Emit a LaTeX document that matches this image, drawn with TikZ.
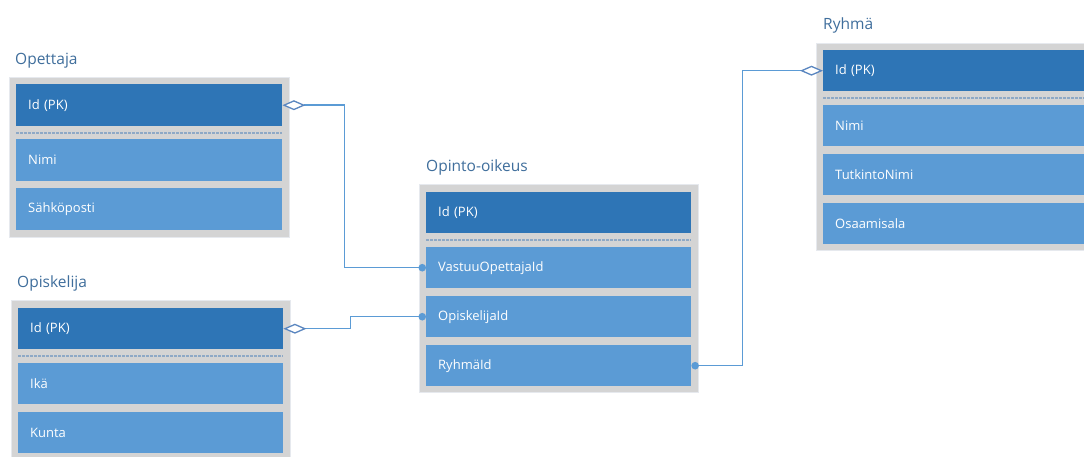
\documentclass[tikz,border=0pt]{standalone}
\usepackage{fontspec}
\setmainfont{Open Sans}
\usetikzlibrary{arrows.meta}
\definecolor{pkblue}{HTML}{2E75B6}
\definecolor{rowblue}{HTML}{5B9BD5}
\definecolor{framegray}{HTML}{D4D4D4}
\definecolor{shadowgray}{HTML}{E6E9EE}
\definecolor{titleblue}{HTML}{3F6E9C}
\definecolor{linkblue}{HTML}{5B9BD5}
\definecolor{tipblue}{HTML}{5A86C0}
\definecolor{sepblue}{HTML}{8EA9C6}
\tikzset{
  tablebox/.style={fill=framegray, draw=shadowgray, line width=1pt},
  field/.style={fill=rowblue, text=white, anchor=north west, inner xsep=12pt,
    inner ysep=0pt, align=left, font=\fontsize{13}{15}\selectfont, draw=none},
  pkfield/.style={field, fill=pkblue},
  tabletitle/.style={anchor=base west, text=titleblue, inner sep=0pt,
    font=\fontsize{15.5}{18}\selectfont},
  sep/.style={draw=sepblue, dash pattern=on 2.5pt off 1.5pt, line width=1.3pt},
  link/.style={draw=linkblue, line width=1.5pt},
  onetip/.tip={Circle[length=7.5pt, fill=rowblue, color=rowblue]},
  manytip/.tip={Diamond[open, length=23pt, width=10pt, line width=1.3pt, color=tipblue, fill=white]}
}
% a field row: name, x, y (top), width, height, text, style
\newcommand{\fieldrow}[7]{%
  \node[#7, text width=#4pt-24pt, minimum height=#5pt] (#1) at (#2,#3) {#6};}
\begin{document}
\begin{tikzpicture}[x=1pt, y=-1pt]
\useasboundingbox (0,0) rectangle (1084,456);
\clip (0,0) rectangle (1084,456);
\fill[white] (0,0) rectangle (1084,456);

% ---------- Opettaja ----------
\node[tabletitle] (tOpe) at (15,64) {Opettaja};
\filldraw[tablebox] (9,77) rectangle (289,237);
\fieldrow{opeId}{16}{84}{266}{42}{Id (PK)}{pkfield}
\draw[sep] (16,133) -- (282,133);
\fieldrow{opeNimi}{16}{139}{266}{42}{Nimi}{field}
\fieldrow{opeMail}{16}{188}{266}{42}{Sähköposti}{field}

% ---------- Opiskelija ----------
\node[tabletitle] (tOpis) at (17,287) {Opiskelija};
\filldraw[tablebox] (11,300) rectangle (290,470);
\fieldrow{opisId}{18}{308}{265}{41}{Id (PK)}{pkfield}
\draw[sep] (18,356) -- (283,356);
\fieldrow{opisIka}{18}{363}{265}{41}{Ikä}{field}
\fieldrow{opisKunta}{18}{412}{265}{41}{Kunta}{field}

% ---------- Opinto-oikeus ----------
\node[tabletitle] (tOik) at (426,171) {Opinto-oikeus};
\filldraw[tablebox] (419,184) rectangle (698,392);
\fieldrow{oikId}{426}{192}{265}{41}{Id (PK)}{pkfield}
\draw[sep] (426,240) -- (691,240);
\fieldrow{oikOpe}{426}{247}{265}{41}{VastuuOpettajaId}{field}
\fieldrow{oikOpis}{426}{296}{265}{41}{OpiskelijaId}{field}
\fieldrow{oikRyh}{426}{345}{265}{41}{RyhmäId}{field}

% ---------- Ryhmä ----------
\node[tabletitle] (tRyh) at (823,29) {Ryhmä};
\filldraw[tablebox] (816,43) rectangle (1100,250);
\fieldrow{ryhId}{823}{50}{280}{41}{Id (PK)}{pkfield}
\draw[sep] (823,98) -- (1100,98);
\fieldrow{ryhNimi}{823}{105}{280}{41}{Nimi}{field}
\fieldrow{ryhTutk}{823}{154}{280}{41}{TutkintoNimi}{field}
\fieldrow{ryhOsa}{823}{203}{280}{41}{Osaamisala}{field}

% ---------- relations ----------
\draw[link, {manytip}-{onetip}] (opeId.east) -- ++(62,0) |- (oikOpe.west);
\draw[link, {manytip}-{onetip}] (opisId.east) -- ++(67,0) |- (oikOpis.west);
\draw[link, {onetip}-{manytip}] (oikRyh.east) -- ++(51,0) |- (ryhId.west);
\end{tikzpicture}
\end{document}
